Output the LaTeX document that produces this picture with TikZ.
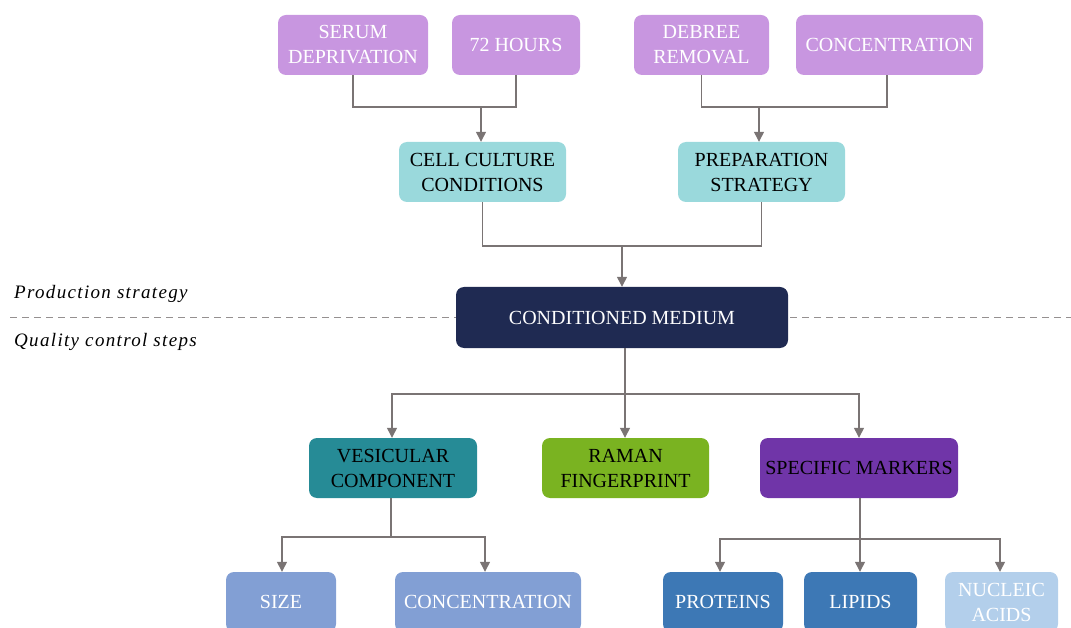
\documentclass[tikz,border=0pt]{standalone}
\usepackage{fontspec}
\setmainfont{Liberation Serif}
\usetikzlibrary{arrows.meta}
\definecolor{cpurple}{RGB}{200,150,224}
\definecolor{cteal}{RGB}{154,217,220}
\definecolor{cnavy}{RGB}{31,42,82}
\definecolor{cves}{RGB}{38,139,150}
\definecolor{cram}{RGB}{122,179,33}
\definecolor{cspec}{RGB}{112,53,168}
\definecolor{cbl}{RGB}{130,159,212}
\definecolor{cblue}{RGB}{61,120,181}
\definecolor{clight}{RGB}{179,207,235}
\definecolor{cline}{RGB}{122,116,116}
\begin{document}
\begin{tikzpicture}[x=1pt,y=-1pt,
  box/.style={rounded corners=8pt, minimum height=60pt, align=center, inner sep=0pt,
    font=\fontsize{20}{25}\selectfont},
  conn/.style={draw=cline, line width=1.3pt},
  arr/.style={conn, -{Triangle[length=10pt,width=10pt]}},
  lab/.style={font=\fontsize{19}{22}\selectfont\itshape\addfontfeature{LetterSpace=7}, anchor=base west, inner sep=0pt}
]
\useasboundingbox (0,0) rectangle (1071,628);
\draw[draw=cline!80, line width=1pt, dash pattern=on 7pt off 5pt] (10,318) -- (1071,318);
\node[lab] (ps) at (14,299) {Production strategy};
\node[lab] (qc) at (14,346) {Quality control steps};

\node[box, fill=cpurple, text=white, minimum width=150pt] (ser) at (353,45) {SERUM\\DEPRIVATION};
\node[box, fill=cpurple, text=white, minimum width=128pt] (hrs) at (516,45) {72 HOURS};
\node[box, fill=cpurple, text=white, minimum width=135pt] (deb) at (701.5,45) {DEBREE\\REMOVAL};
\node[box, fill=cpurple, text=white, minimum width=187pt] (con) at (889.5,45) {CONCENTRATION};
\node[box, fill=cteal, text=black, minimum width=167pt] (ccc) at (482.5,172) {CELL CULTURE\\CONDITIONS};
\node[box, fill=cteal, text=black, minimum width=167pt] (prep) at (761.5,172) {PREPARATION\\STRATEGY};
\node[box, fill=cnavy, text=white, minimum width=332pt, minimum height=61pt] (cm) at (622,317.5) {CONDITIONED MEDIUM};
\node[box, fill=cves, text=black, minimum width=168pt] (ves) at (393,468) {VESICULAR\\COMPONENT};
\node[box, fill=cram, text=black, minimum width=167pt] (ram) at (625.5,468) {RAMAN\\FINGERPRINT};
\node[box, fill=cspec, text=black, minimum width=198pt] (spec) at (859,468) {SPECIFIC MARKERS};
\node[box, fill=cbl, text=white, minimum width=110pt] (size) at (281,602) {SIZE};
\node[box, fill=cbl, text=white, minimum width=186pt] (conc) at (488,602) {CONCENTRATION};
\node[box, fill=cblue, text=white, minimum width=120pt] (prot) at (723,602) {PROTEINS};
\node[box, fill=cblue, text=white, minimum width=113pt] (lip) at (860.5,602) {LIPIDS};
\node[box, fill=clight, text=white, minimum width=113pt] (nuc) at (1001.5,602) {NUCLEIC\\ACIDS};

\coordinate (j1) at (481,107);
\coordinate (j2) at (759,107);
\coordinate (j3) at (622,246);
\coordinate (j4) at (625,394);
\coordinate (j5) at (391,537);
\coordinate (j6) at (860,539);

\draw[conn] (ser.south) |- (j1);
\draw[conn] (hrs.south) |- (j1);
\draw[arr] (j1) -- (j1 |- ccc.north);
\draw[conn] (deb.south) |- (j2);
\draw[conn] (con.south -| 887,0) |- (j2);
\draw[arr] (j2) -- (j2 |- prep.north);
\draw[conn] (ccc.south) |- (j3);
\draw[conn] (prep.south) |- (j3);
\draw[arr] (j3) -- (j3 |- cm.north);
\draw[conn] (cm.south -| j4) -- (j4);
\draw[arr] (j4) -| (ves.north -| 392,0);
\draw[arr] (j4) -- (j4 |- ram.north);
\draw[arr] (j4) -| (spec.north);
\draw[conn] (ves.south -| j5) -- (j5);
\draw[arr] (j5) -| (size.north -| 282,0);
\draw[arr] (j5) -| (conc.north -| 485,0);
\draw[conn] (spec.south -| j6) -- (j6);
\draw[arr] (j6) -| (prot.north -| 720,0);
\draw[arr] (j6) -- (j6 |- lip.north);
\draw[arr] (j6) -| (nuc.north -| 1000,0);
\end{tikzpicture}
\end{document}
